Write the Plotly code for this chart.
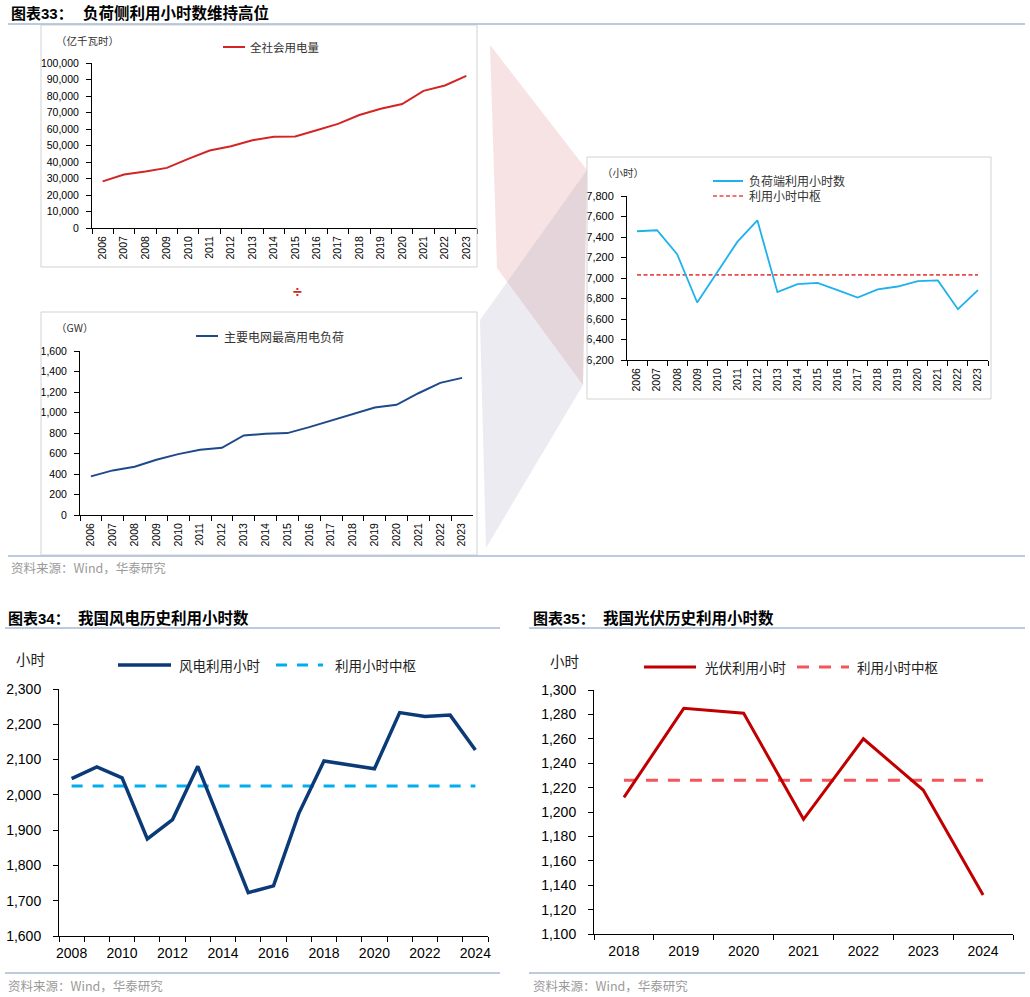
import plotly.graph_objects as go

# ---------------- data ----------------
years_load = [str(y) for y in range(2006, 2024)]
consumption = [28248, 32458, 34268, 36430, 41923, 46928, 49591, 53223, 55233,
               55500, 59198, 63077, 68449, 72255, 75110, 83128, 86372, 92241]
peak_load = [377, 435, 471, 539, 594, 636, 656, 776, 792, 799, 857, 922, 987,
             1049, 1075, 1188, 1289, 1338]
load_hours = [7456, 7466, 7232, 6761, 7057, 7352, 7563, 6862, 6940, 6953, 6881,
              6810, 6888, 6917, 6969, 6976, 6696, 6881]
load_hours_center = 7030

wind_years = [str(y) for y in range(2008, 2025)]
wind_hours = [2046, 2079, 2048, 1875, 1930, 2081, 1902, 1723, 1742, 1947, 2096,
              2085, 2074, 2233, 2222, 2226, 2127]
wind_center = 2025

solar_years = [str(y) for y in range(2018, 2025)]
solar_hours = [1212, 1285, 1281, 1194, 1260, 1218, 1132]
solar_center = 1226

# ---------------- helpers ----------------
W, H = 1030, 997
def X(px):
    return px / W
def Y(py):
    return 1 - py / H

NUM = "Liberation Sans, Arial, Noto Sans CJK SC"
CJK = "Noto Sans CJK SC, Liberation Sans"

fig = go.Figure()

# traces
fig.add_trace(go.Scatter(x=years_load, y=consumption, xaxis="x", yaxis="y",
                         mode="lines", line=dict(color="#D42424", width=2)))
fig.add_trace(go.Scatter(x=years_load, y=peak_load, xaxis="x2", yaxis="y2",
                         mode="lines", line=dict(color="#1F4A8A", width=2)))
fig.add_trace(go.Scatter(x=years_load, y=[load_hours_center] * len(years_load),
                         xaxis="x3", yaxis="y3", mode="lines",
                         line=dict(color="#E84A4A", width=1.6, dash="4px,2.5px")))
fig.add_trace(go.Scatter(x=years_load, y=load_hours, xaxis="x3", yaxis="y3",
                         mode="lines", line=dict(color="#1EB1EC", width=1.8)))
fig.add_trace(go.Scatter(x=wind_years, y=[wind_center] * len(wind_years),
                         xaxis="x4", yaxis="y4", mode="lines",
                         line=dict(color="#00AEEF", width=3, dash="11px,10px")))
fig.add_trace(go.Scatter(x=wind_years, y=wind_hours, xaxis="x4", yaxis="y4",
                         mode="lines", line=dict(color="#0B3A78", width=3.5)))
fig.add_trace(go.Scatter(x=solar_years, y=[solar_center] * len(solar_years),
                         xaxis="x5", yaxis="y5", mode="lines",
                         line=dict(color="#F5555A", width=3, dash="12px,10px")))
fig.add_trace(go.Scatter(x=solar_years, y=solar_hours, xaxis="x5", yaxis="y5",
                         mode="lines", line=dict(color="#C00000", width=3)))


def xaxis(dom, n, size, angle=0, anchor="y", tickvals=None, ticktext=None, standoff=3):
    d = dict(domain=[X(dom[0]), X(dom[1])], anchor=anchor, type="category",
             range=[-0.5, n - 0.5], tickson="boundaries", ticks="outside",
             ticklen=5, tickcolor="#000", tickwidth=1, showline=True,
             linecolor="#000", linewidth=1, showgrid=False, zeroline=False,
             tickangle=angle, automargin=False, ticklabelstandoff=standoff,
             tickfont=dict(family=NUM, size=size, color="#000"))
    if tickvals is not None:
        d.update(tickmode="array", tickvals=tickvals, ticktext=ticktext)
    return d


def yaxis(dom, rng, dtick, size, anchor="x", standoff=4):
    return dict(domain=[Y(dom[0]), Y(dom[1])], anchor=anchor, range=rng,
                dtick=dtick, tick0=rng[0], tickformat=",", ticks="outside",
                ticklen=5, tickcolor="#000", tickwidth=1, showline=True,
                linecolor="#000", linewidth=1, showgrid=False, zeroline=False,
                automargin=False, ticklabelstandoff=standoff,
                tickfont=dict(family=NUM, size=size, color="#000"))


wind_text = [y if i % 2 == 0 else "" for i, y in enumerate(wind_years)]

layout = dict(
    width=W, height=H, margin=dict(l=0, r=0, t=0, b=0), autosize=False,
    paper_bgcolor="white", plot_bgcolor="rgba(0,0,0,0)", showlegend=False,
    xaxis=xaxis((92, 477), len(years_load), 10.5, -90, "y"),
    yaxis=yaxis((228, 63), [0, 100000], 10000, 10.5, "x", 5),
    xaxis2=xaxis((80, 473), len(years_load), 10.5, -90, "y2"),
    yaxis2=yaxis((515, 351), [0, 1600], 200, 10.5, "x2", 5),
    xaxis3=xaxis((627, 988), len(years_load), 10.5, -90, "y3"),
    yaxis3=yaxis((360, 196), [6200, 7800], 200, 11, "x3", 5),
    xaxis4=xaxis((59, 488), len(wind_years), 14, 0, "y4",
                 tickvals=wind_years, ticktext=wind_text, standoff=4),
    yaxis4=yaxis((936, 689), [1600, 2300], 100, 14, "x4", 9),
    xaxis5=xaxis((594, 1013), len(solar_years), 14, 0, "y5", standoff=4),
    yaxis5=yaxis((934, 690), [1100, 1300], 20, 14, "x5", 9),
)
fig.update_layout(**layout)

shapes = []
# decorative funnel polygons
def path(pts):
    return "M " + " L ".join(f"{X(a):.5f},{Y(b):.5f}" for a, b in pts) + " Z"

shapes.append(dict(type="path", xref="paper", yref="paper", layer="below",
                   path=path([(490, 45), (587, 170), (583, 385), (497, 268)]),
                   fillcolor="#F7E3E3", line=dict(width=0)))
shapes.append(dict(type="path", xref="paper", yref="paper", layer="below",
                   path=path([(480, 320), (587, 170), (583, 385), (486, 548)]),
                   fillcolor="rgba(165,165,190,0.22)", line=dict(width=0)))

# chart boxes
for (x0, y0, x1, y1) in [(41, 25, 477, 267), (41, 312, 477, 555), (587, 157, 991, 399)]:
    shapes.append(dict(type="rect", xref="paper", yref="paper",
                       x0=X(x0), x1=X(x1), y0=Y(y1), y1=Y(y0),
                       line=dict(color="#D3D3D3", width=1), fillcolor="rgba(0,0,0,0)"))

# header / source rules
rule = "#A7BAD3"
for (x0, x1, yy) in [(8, 1025, 24), (8, 1025, 556), (5, 500, 628), (529, 1025, 628),
                     (5, 500, 973), (529, 1025, 973)]:
    shapes.append(dict(type="line", xref="paper", yref="paper",
                       x0=X(x0), x1=X(x1), y0=Y(yy), y1=Y(yy),
                       line=dict(color=rule, width=1.5)))

# legend keys
def key(x0, x1, yy, color, width, dash="solid"):
    shapes.append(dict(type="line", xref="paper", yref="paper",
                       x0=X(x0), x1=X(x1), y0=Y(yy), y1=Y(yy),
                       line=dict(color=color, width=width, dash=dash)))

key(223, 245, 47, "#D42424", 2)
key(196, 218, 336, "#1F4A8A", 2)
key(713, 743, 181, "#1EB1EC", 2)
key(713, 743, 196, "#E84A4A", 1.6, "4px,2.5px")
key(118, 171, 665, "#0B3A78", 3.5)
key(276, 323, 665, "#00AEEF", 3, "11px,10px")
key(644, 696, 667, "#C00000", 3)
key(797, 849, 667, "#F5555A", 3, "12px,10px")

fig.update_layout(shapes=shapes)

ann = []
def text(x, y, s, size, color="#222", family=CJK, anchor="left", bold=False):
    if bold:
        s = "<b>" + s + "</b>"
    ann.append(dict(xref="paper", yref="paper", x=X(x), y=Y(y), text=s,
                    showarrow=False, xanchor=anchor, yanchor="middle",
                    font=dict(size=size, color=color, family=family)))

TITLE = "Liberation Sans, Noto Sans CJK SC"
text(9, 13, "图表33：", 15, "#000", TITLE, bold=True)
text(81, 13, "负荷侧利用小时数维持高位", 15.5, "#000", TITLE, bold=True)
text(6, 618, "图表34：", 15, "#000", TITLE, bold=True)
text(76, 618, "我国风电历史利用小时数", 15.5, "#000", TITLE, bold=True)
text(531, 618, "图表35：", 15, "#000", TITLE, bold=True)
text(601, 618, "我国光伏历史利用小时数", 15.5, "#000", TITLE, bold=True)

text(54, 40, "（亿千瓦时）", 10.5, "#333")
text(248, 47, "全社会用电量", 11.5, "#333")
text(54, 327, "（GW）", 10.5, "#333", "Noto Sans CJK SC")
text(222, 336, "主要电网最高用电负荷", 12, "#333")
text(600, 173, "（小时）", 10.5, "#333")
text(747, 181, "负荷端利用小时数", 12, "#333")
text(747, 196, "利用小时中枢", 12, "#333")
text(297.5, 291, "<b>÷</b>", 16, "#D42424", NUM, anchor="center")

text(14, 658, "小时", 14.5, "#222")
text(177, 665, "风电利用小时", 13.5, "#222")
text(333, 665, "利用小时中枢", 13.5, "#222")
text(548, 660, "小时", 14.5, "#222")
text(703, 667, "光伏利用小时", 13.5, "#222")
text(855, 667, "利用小时中枢", 13.5, "#222")

src = "资料来源：Wind，华泰研究"
text(9, 567, src, 12.5, "#9A9A9A")
text(6, 985, src, 12.5, "#9A9A9A")
text(531, 985, src, 12.5, "#9A9A9A")

fig.update_layout(annotations=ann)

fig.write_html("out.html")
